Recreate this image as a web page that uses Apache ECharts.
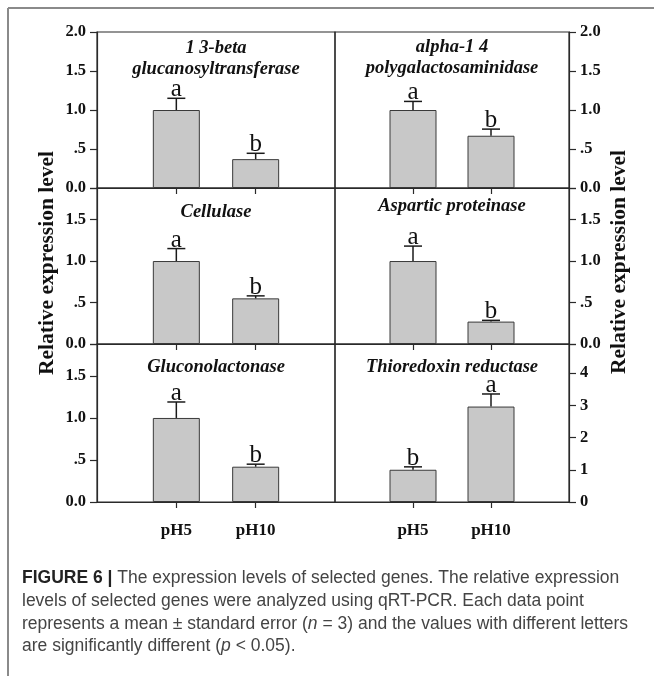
<!DOCTYPE html>
<html>
<head>
<meta charset="utf-8">
<script src="https://cdn.jsdelivr.net/npm/echarts@6/dist/echarts.min.js"></script>
<style>
html,body{margin:0;padding:0;background:#fff;}
#chart{width:654px;height:676px;}
</style>
</head>
<body>
<div id="chart"></div>
<script>
// ---- data ----
const categories = ['pH5', 'pH10'];
const geneTitles = [
  ['1 3-beta', 'glucanosyltransferase'],
  ['alpha-1 4', 'polygalactosaminidase'],
  ['Cellulase'],
  ['Aspartic proteinase'],
  ['Gluconolactonase'],
  ['Thioredoxin reductase']
];
const means1_3beta = [1.00, 0.37];
const errs1_3beta = [0.15, 0.075];
const meansAlpha = [1.00, 0.67];
const errsAlpha = [0.11, 0.085];
const meansCellulase = [1.00, 0.55];
const errsCellulase = [0.15, 0.03];
const meansAspartic = [1.00, 0.27];
const errsAspartic = [0.18, 0.015];
const meansGlucono = [1.00, 0.42];
const errsGlucono = [0.19, 0.03];
const meansThio = [1.00, 2.96];
const errsThio = [0.09, 0.39];
const letters = [['a', 'b'], ['a', 'b'], ['a', 'b'], ['a', 'b'], ['a', 'b'], ['b', 'a']];
const yMaxes = [2.0, 2.0, 1.88, 1.88, 1.88, 4.9];
const yIntervals = [0.5, 0.5, 0.5, 0.5, 0.5, 1];
const tickLabelsHalf = ['0.0', '.5', '1.0', '1.5', '2.0'];
const tickLabelsInt = ['0', '1', '2', '3', '4'];
const yAxisTitle = 'Relative expression level';
const captionLines = [
  [['b', 'FIGURE 6 | '], ['n', 'The expression levels of selected genes. The relative expression']],
  [['n', 'levels of selected genes were analyzed using qRT-PCR. Each data point']],
  [['n', 'represents a mean \u00b1 standard error ('], ['i', 'n'], ['n', ' = 3) and the values with different letters']],
  [['n', 'are significantly different ('], ['i', 'p'], ['n', ' < 0.05).']]
];

const allMeans = [means1_3beta, meansAlpha, meansCellulase, meansAspartic, meansGlucono, meansThio];
const allErrs = [errs1_3beta, errsAlpha, errsCellulase, errsAspartic, errsGlucono, errsThio];

// ---- layout ----
const SERIF = '"Liberation Serif", "Times New Roman", serif';
const colLeft = [97, 335];
const colWidth = [238, 234];
const rowTop = [32, 188, 344];
const rowHeight = [156, 156, 158];
const titleY = [[48, 69], [47, 68], [212], [206], [367], [367]];
const AX = '#2a2a2a';

const grids = [], xAxes = [], yAxes = [], series = [], graphics = [];
for (let g = 0; g < 6; g++) {
  const col = g % 2, row = Math.floor(g / 2);
  grids.push({
    left: colLeft[col], top: rowTop[row], width: colWidth[col], height: rowHeight[row],
    show: true, borderColor: AX, borderWidth: 1.2, backgroundColor: 'transparent'
  });
  xAxes.push({
    gridIndex: g, type: 'value', min: 0, max: 3, interval: 1,
    splitLine: { show: false },
    axisLine: { show: true, onZero: false, lineStyle: { color: AX, width: 1.2 } },
    axisTick: { show: true, customValues: [1, 2], length: 6, lineStyle: { color: AX, width: 1.2 } },
    axisLabel: {
      show: row === 2, customValues: [1, 2], margin: 20,
      formatter: v => categories[Math.round(v) - 1] || '',
      fontFamily: SERIF, fontWeight: 'bold', fontSize: 17, color: '#111'
    }
  });
  const itv = yIntervals[g];
  const lbls = itv === 1 ? tickLabelsInt : tickLabelsHalf;
  yAxes.push({
    gridIndex: g, type: 'value', min: 0, max: yMaxes[g], interval: itv,
    position: col === 0 ? 'left' : 'right',
    splitLine: { show: false },
    axisLine: { show: true, onZero: false, lineStyle: { color: AX, width: 1.2 } },
    axisTick: { show: true, inside: false, length: 7, lineStyle: { color: AX, width: 1.2 } },
    axisLabel: {
      margin: 11, showMaxLabel: true,
      formatter: v => {
        const k = Math.round(v / itv);
        if (Math.abs(v - k * itv) > 1e-6) return '';
        return lbls[k] || '';
      },
      fontFamily: SERIF, fontWeight: 'bold', fontSize: 16.5, color: '#111'
    }
  });
  const means = allMeans[g], errs = allErrs[g];
  series.push({
    type: 'bar', xAxisIndex: g, yAxisIndex: g, barWidth: 47,
    data: means.map((m, i) => [i + 1, m]),
    itemStyle: { color: '#c8c8c8', borderColor: '#3a3a3a', borderWidth: 1 },
    silent: true, animation: false
  });
  const lt = letters[g];
  series.push({
    type: 'custom', xAxisIndex: g, yAxisIndex: g,
    data: means.map((m, i) => [i + 1, m, errs[i]]),
    animation: false, silent: true, z: 5,
    renderItem: (params, api) => {
      const x = api.value(0), m = api.value(1), e = api.value(2);
      const b = api.coord([x, m]);
      const t = api.coord([x, m + e]);
      return {
        type: 'group', children: [
          { type: 'line', shape: { x1: b[0], y1: b[1], x2: t[0], y2: t[1] }, style: { stroke: '#1a1a1a', lineWidth: 1.5 } },
          { type: 'line', shape: { x1: t[0] - 9, y1: t[1], x2: t[0] + 9, y2: t[1] }, style: { stroke: '#1a1a1a', lineWidth: 1.5 } },
          { type: 'text', x: t[0], y: t[1] + 4, style: { text: lt[params.dataIndex], align: 'center', verticalAlign: 'bottom', font: '25px ' + SERIF, fill: '#111' } }
        ]
      };
    }
  });
  const cx = colLeft[col] + colWidth[col] / 2;
  geneTitles[g].forEach((s, k) => {
    graphics.push({
      type: 'text', x: cx, y: titleY[g][k],
      style: { text: s, align: 'center', verticalAlign: 'middle', font: 'italic bold 18.5px ' + SERIF, fill: '#111' }
    });
  });
}

// y-axis titles
graphics.push({
  type: 'text', x: 47, y: 263, rotation: Math.PI / 2,
  style: { text: yAxisTitle, align: 'center', verticalAlign: 'middle', font: 'bold 21.5px ' + SERIF, fill: '#111' }
});
graphics.push({
  type: 'text', x: 619, y: 262, rotation: Math.PI / 2,
  style: { text: yAxisTitle, align: 'center', verticalAlign: 'middle', font: 'bold 21.5px ' + SERIF, fill: '#111' }
});

// frame
graphics.push({ type: 'line', shape: { x1: 8, y1: 8, x2: 654, y2: 8 }, style: { stroke: '#8a8a8a', lineWidth: 2 } });
graphics.push({ type: 'line', shape: { x1: 8, y1: 8, x2: 8, y2: 676 }, style: { stroke: '#8a8a8a', lineWidth: 2 } });

// caption
const capY = [578, 601, 624, 646];
const SANS = '"Liberation Sans", Arial, sans-serif';
captionLines.forEach((parts, li) => {
  const text = parts.map(p => '{' + p[0] + '|' + p[1] + '}').join('');
  graphics.push({
    type: 'text', x: 22, y: capY[li],
    style: {
      text: text, align: 'left', verticalAlign: 'middle',
      rich: {
        b: { fontFamily: SANS, fontWeight: 'bold', fontSize: 17.5, fill: '#222' },
        n: { fontFamily: SANS, fontSize: 17.5, fill: '#444' },
        i: { fontFamily: SANS, fontStyle: 'italic', fontSize: 17.5, fill: '#444' }
      }
    }
  });
});

const chart = echarts.init(document.getElementById('chart'), null, { renderer: 'canvas' });
chart.setOption({
  backgroundColor: '#fff',
  animation: false,
  grid: grids, xAxis: xAxes, yAxis: yAxes, series: series,
  graphic: graphics
});
</script>
</body>
</html>
